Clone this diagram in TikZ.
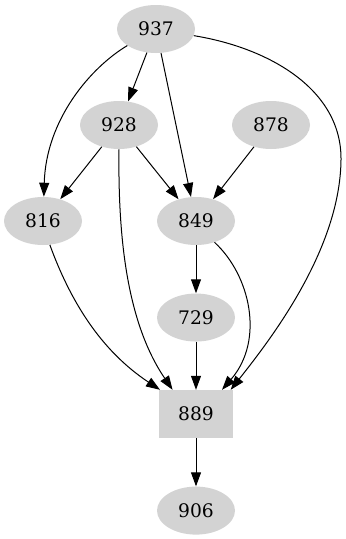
\documentclass[tikz,border=0pt]{standalone}
\usepackage{fontspec}
\setmainfont{DejaVu Serif}
\usepackage{xcolor}
\usepackage{tikz}
\usetikzlibrary{arrows.meta, positioning, shapes.geometric}
\definecolor{vgray}{HTML}{D3D3D3}

\begin{document}
\begin{tikzpicture}[
  x=0.75pt, y=-0.75pt,
  vtx/.style={ellipse, fill=vgray, draw=none, inner sep=0pt,
    minimum width=58.5pt, minimum height=36pt, font=\fontsize{14}{16}\selectfont},
  vbox/.style={rectangle, fill=vgray, draw=none, inner sep=0pt,
    minimum width=55.5pt, minimum height=36pt, font=\fontsize{14}{16}\selectfont},
  edge/.style={draw, line width=0.75pt, -{Triangle[length=10.5pt, width=7.5pt]}},
]
  \useasboundingbox (0,0) rectangle (346,539);
  % top ranks
  \node[vtx] (n937) at (156,29) {937};
  \node[vtx] (n928) at (119,125) {928};
  \node[vtx] (n878) at (271,125) {878};
  \node[vtx] (n816) at (43,221) {816};
  \node[vtx] (n849) at (196,221) {849};
  % chain below 849
  \node[vtx, below=36pt of n849] (n729) {729};
  \node[vbox, below=36pt of n729] (n889) {889};
  \node[vtx, below=36pt of n889] (n906) {906};

  \draw[edge] (n937) -- (n928);
  \draw[edge] (n937) -- (n849);
  \draw[edge] (n937.210) .. controls (90,68) and (46,120) .. (n816.88);
  \draw[edge] (n937.-10) .. controls (270,48) and (342,90) .. (341,160)
    .. controls (340,250) and (270,340) .. (n889.35);
  \draw[edge] (n928) -- (n816);
  \draw[edge] (n928) -- (n849);
  \draw[edge] (n928.south) .. controls (118,230) and (125,320) .. (n889.134);
  \draw[edge] (n878) -- (n849);
  \draw[edge] (n816.-74) .. controls (70,300) and (100,350) .. (n889.146);
  \draw[edge] (n849) -- (n729);
  \draw[edge] (n849.-49) .. controls (250,275) and (265,340) .. (n889.43);
  \draw[edge] (n729) -- (n889);
  \draw[edge] (n889) -- (n906);
\end{tikzpicture}
\end{document}
